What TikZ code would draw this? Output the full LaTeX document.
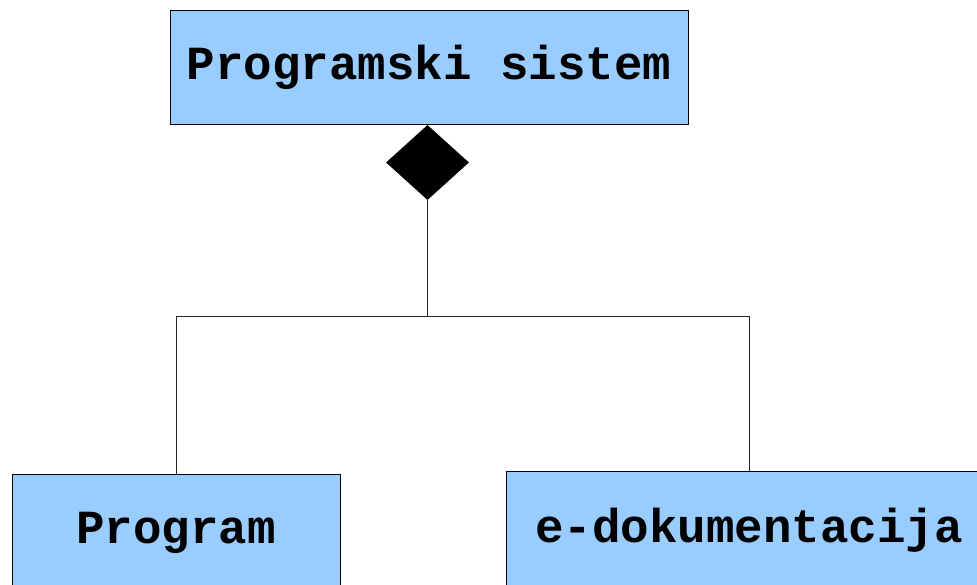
\documentclass[tikz,border=0pt]{standalone}
\usepackage{fontspec}
\setmonofont{Liberation Mono}
\usetikzlibrary{shapes.geometric}
\definecolor{boxblue}{HTML}{99CCFF}
\begin{document}
\begin{tikzpicture}[x=1pt,y=1pt,
  umlbox/.style={draw=black,fill=boxblue,line width=0.8pt,inner sep=0pt,
    font=\fontsize{47.5}{50}\selectfont\ttfamily\bfseries},
  conn/.style={draw=black!85,line width=0.8pt}]
\useasboundingbox (0,0) rectangle (977,-585);
\clip (0,0) rectangle (977,-585);
\node[umlbox,minimum width=518pt,minimum height=114pt] (sys) at (429,-67) {Programski sistem};
\node[umlbox,minimum width=328pt,minimum height=118pt] (prog) at (176,-533) {Program};
\node[umlbox,minimum width=486pt,minimum height=118pt] (doc) at (749,-530) {e-dokumentacija};
\node[diamond,fill=black,draw=none,inner sep=0pt,minimum width=83pt,minimum height=75pt] (dia) at (427.5,-162.5) {};
\draw[conn] (dia.south) -- ++(0,-116) coordinate (j);
\draw[conn] (j) -| (prog.north);
\draw[conn] (j) -| (doc.north);
\end{tikzpicture}
\end{document}
